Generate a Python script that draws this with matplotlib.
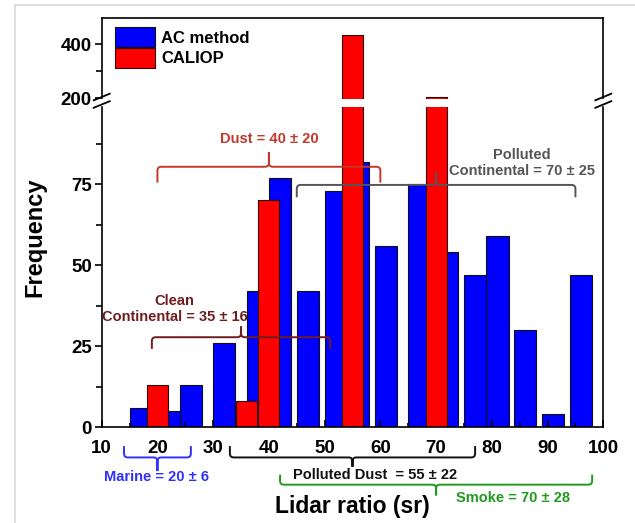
import matplotlib
matplotlib.use("Agg")
import matplotlib.pyplot as plt
from matplotlib.path import Path
from matplotlib.patches import PathPatch
from matplotlib.lines import Line2D

plt.rcParams['font.family'] = ['Liberation Sans', 'DejaVu Sans']
plt.rcParams['font.weight'] = 'bold'

# data
ac_ratio = [17, 22, 26, 32, 38, 42, 47, 52, 56, 61, 67, 72, 77, 81, 86, 91, 96]
ac_freq = [6, 5, 13, 26, 42, 77, 42, 73, 82, 56, 75, 54, 47, 59, 30, 4, 47]
caliop_ratio = [20, 36, 40, 55, 70]
caliop_freq = [13, 8, 70, 433, 207]

# aerosol types: mean +- sd of lidar ratio
types = ['Dust', 'Polluted\nContinental', 'Clean\nContinental', 'Marine',
         'Polluted Dust ', 'Smoke']
means = [40, 70, 35, 20, 55, 70]
sds = [20, 25, 16, 6, 22, 28]

# layout of the braces (data y of line, end length, tip length) and labels
brace_y = [80.4, 74.8, 27.8, -9.3, -9.3, -17.7]
brace_end = [-4.9, -3.8, -3.6, 3.5, 3.5, 3.1]
brace_tip = [4.5, 3.9, 3.3, -4.2, -2.9, -3.3]
label_xy = [(40, 89.0), (85.4, 81.6), (23.1, 36.4), (19.8, -15.3), (59.0, -14.6), (83.75, -21.7)]
colors = ['#c0392b', '#555555', '#6e1e1e', '#3030ff', '#111111', '#1f9a1f']

W, H = 635, 523
fig = plt.figure(figsize=(W / 100, H / 100), dpi=100)


def px_rect(x0, y0, x1, y1):
    return [x0 / W, 1 - y1 / H, (x1 - x0) / W, (y1 - y0) / H]


ax_bot = fig.add_axes(px_rect(101.7, 106.5, 603.3, 427.3))
ax_top = fig.add_axes(px_rect(101.7, 18.3, 603.3, 98.5), sharex=ax_bot)

for ax in (ax_bot, ax_top):
    ax.bar(ac_ratio, ac_freq, width=4, color='#0000ff', edgecolor='#111111',
           linewidth=0.8, label='AC method', zorder=1)
    ax.bar(caliop_ratio, caliop_freq, width=3.8, color='#ff0000', edgecolor='#300000',
           linewidth=0.8, label='CALIOP', zorder=2)
    for s in ax.spines.values():
        s.set_linewidth(1.2)
    ax.tick_params(axis='y', which='major', direction='out', length=5, width=1.2,
                   labelsize=13.5, pad=2, right=False)
    ax.tick_params(axis='y', which='minor', direction='out', length=4, width=1.2, right=False)

ax_bot.set_xlim(10, 100)
ax_bot.set_ylim(0, 99)
ax_top.set_ylim(200, 495)

ax_bot.set_xticks(range(10, 101, 10))
ax_bot.set_xticks(range(15, 100, 10), minor=True)
ax_bot.tick_params(axis='x', which='major', direction='in', length=5, width=1.2,
                   labelsize=13.5, pad=9, top=False)
ax_bot.tick_params(axis='x', which='minor', direction='in', length=3, width=1.2, top=False)
ax_bot.set_yticks([0, 25, 50, 75])
ax_bot.set_yticks([12.5, 37.5, 62.5, 87.5], minor=True)
ax_bot.spines['top'].set_visible(False)

ax_top.set_yticks([200, 400])
ax_top.set_yticks([300], minor=True)
ax_top.spines['bottom'].set_visible(False)
ax_top.tick_params(axis='x', which='both', bottom=False, top=False, labelbottom=False)

ax_top.legend(loc='upper left', bbox_to_anchor=(0.027, 0.89), frameon=False,
              borderaxespad=0, borderpad=0, handlelength=2.4, handleheight=1.45,
              labelspacing=0.05, handletextpad=0.35, prop={'size': 12, 'weight': 'bold'})


def brace(ax, x0, x1, xc, y, end, tip, color):
    rx, ry = 0.7, 1.2
    e = 1 if end > 0 else -1
    t = 1 if tip > 0 else -1
    verts = [(x0, y + end), (x0, y + e * ry), (x0, y), (x0 + rx, y),
             (xc - rx, y), (xc, y), (xc, y + t * ry), (xc, y + tip),
             (xc, y + t * ry), (xc, y), (xc + rx, y),
             (x1 - rx, y), (x1, y), (x1, y + e * ry), (x1, y + end)]
    codes = [Path.MOVETO, Path.LINETO, Path.CURVE3, Path.CURVE3,
             Path.LINETO, Path.CURVE3, Path.CURVE3, Path.LINETO,
             Path.LINETO, Path.CURVE3, Path.CURVE3,
             Path.LINETO, Path.CURVE3, Path.CURVE3, Path.LINETO]
    ax.add_patch(PathPatch(Path(verts, codes), fill=False, edgecolor=color,
                           linewidth=1.4, clip_on=False, zorder=5))


for i in range(len(types)):
    m, s = means[i], sds[i]
    brace(ax_bot, m - s, m + s, m, brace_y[i], brace_end[i], brace_tip[i], colors[i])
    name = types[i]
    if '\n' in name:
        first, second = name.split('\n')
        txt = first + '\n' + second + ' = %d \u00b1 %d' % (m, s)
    else:
        txt = name + ' = %d \u00b1 %d' % (m, s)
    ax_bot.text(label_xy[i][0], label_xy[i][1], txt, color=colors[i], fontsize=10.5,
                fontweight='bold', ha='center', va='center', multialignment='center',
                linespacing=1.2, clip_on=False, zorder=6)

# axis break marks
for xb in (101.7, 603.3):
    for yb in (97.0, 104.5):
        fig.add_artist(Line2D([(xb - 8) / W, (xb + 8) / W],
                              [1 - (yb + 3.3) / H, 1 - (yb - 3.3) / H],
                              color='black', linewidth=1.3, transform=fig.transFigure))

# light frame of the screenshot
fig.add_artist(Line2D([15 / W, 1], [1 - 5 / H, 1 - 5 / H], color='#dedede', linewidth=1.5,
                      transform=fig.transFigure))
fig.add_artist(Line2D([15 / W, 15 / W], [0, 1 - 5 / H], color='#dedede', linewidth=1.5,
                      transform=fig.transFigure))

fig.text(35 / W, 1 - 237.5 / H, 'Frequency', rotation=90, ha='center', va='center',
         fontsize=17, fontweight='bold')
fig.text(352 / W, 1 - 507 / H, 'Lidar ratio (sr)', ha='center', va='center',
         fontsize=16.5, fontweight='bold')

fig.savefig('out.png', dpi=100, facecolor='white')
